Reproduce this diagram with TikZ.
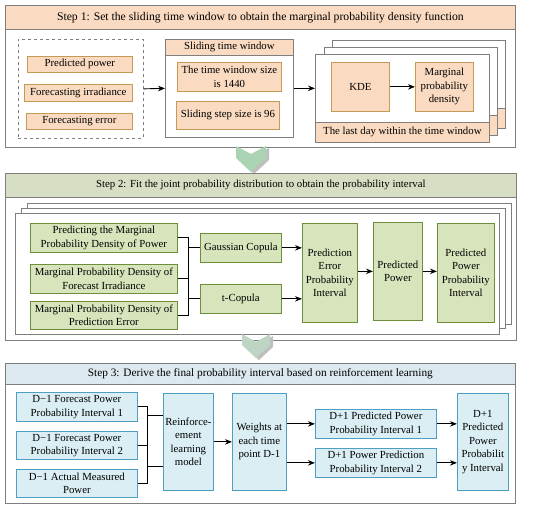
\documentclass[tikz,border=0pt]{standalone}
\usepackage{fontspec}
\setmainfont{Liberation Serif}
\definecolor{ggpeach}{HTML}{FADBC1}
\definecolor{ggpeachline}{HTML}{C49A56}
\definecolor{gggreen}{HTML}{D8E4BC}
\definecolor{gggreenline}{HTML}{6E8F3A}
\definecolor{ggolive}{HTML}{D6DEC3}
\definecolor{ggblue}{HTML}{DAEEF3}
\definecolor{ggblueline}{HTML}{4F9FC4}
\definecolor{ggsky}{HTML}{DCE9EF}
\definecolor{ggframe}{HTML}{7F7F7F}
\definecolor{ggmint}{HTML}{A9D3B2}
\usetikzlibrary{arrows.meta,positioning,calc}

\begin{document}
\begin{tikzpicture}[x=1pt,y=-1pt,
  font=\fontsize{10.8}{13.5}\selectfont,
  sz/.style 2 args={minimum width=#1,minimum height=#2},
  box/.style={anchor=north west,align=center,inner sep=1pt,line width=0.7pt},
  pbox/.style={box,fill=ggpeach,draw=ggpeachline},
  gbox/.style={box,fill=gggreen,draw=gggreenline},
  bbox/.style={box,fill=ggblue,draw=ggblueline},
  frame/.style={anchor=north west,inner sep=0pt,draw=ggframe,fill=white,line width=0.7pt},
  band/.style={anchor=north west,inner sep=0pt,draw=ggframe,line width=0.7pt},
  arr/.style={-{Stealth[length=7pt,width=5.5pt]},line width=0.9pt},
  ln/.style={line width=0.9pt},
  garrow/.style={fill=ggmint},
  gshade/.style={fill=black!25}]
  \useasboundingbox (0,0) rectangle (550,509);

  % step 1
  \node[frame,sz={510}{142}] (s1) at (5,5) {};
  \node[band,fill=ggpeach,sz={510}{24},font=\fontsize{11.7}{13.5}\selectfont] (t1) at (5,5)
    {Step 1: Set the sliding time window to obtain the marginal probability density function};
  \node[frame,dashed,draw=ggframe,sz={125}{99}] (inp) at (18,39) {};
  \node[pbox,sz={105}{16}] (pp) at (27,56) {Predicted power};
  \node[pbox,sz={108}{17}] (fi) at (24,84) {Forecasting irradiance};
  \node[pbox,sz={106}{16}] (fe) at (26,113) {Forecasting error};
  \node[frame,sz={128}{98}] (sw) at (165,39) {};
  \node[band,fill=ggpeach,sz={128}{16}] (swt) at (165,39) {Sliding time window};
  \node[pbox,sz={104}{29}] (tw) at (177,62) {The time window size\\is 1440};
  \node[pbox,sz={103}{28}] (ss) at (176,101) {Sliding step size is 96};
  \foreach \dx/\dy in {17/-14,9/-7} {
    \node[frame,sz={173}{88}] at (315+\dx,54+\dy) {};
    \node[band,fill=ggpeach,sz={173}{20}] at (315+\dx,122+\dy) {};
  }
  \node[frame,sz={174}{88}] (day) at (315,54) {};
  \node[band,fill=ggpeach,sz={174}{20}] (dayt) at (315,122) {The last day within the time window};
  \node[pbox,sz={58}{49}] (kde) at (331,62) {KDE};
  \node[pbox,sz={58}{49}] (mpd) at (415,62) {Marginal\\probability\\density};
  \draw[arr] (inp.east) -- (sw.west);
  \draw[arr] (sw.east) -- (sw.east -| day.west);
  \draw[arr] (kde) -- (mpd);

  \coordinate (a1) at (251,146);
  \fill[gshade] ([shift={(3,2)}]a1) ++(-15,0) -- ++(15,8) -- ++(15,-8) -- ++(0,12) -- ++(-15,14) -- ++(-15,-14) -- cycle;
  \fill[garrow] (a1) ++(-15,0) -- ++(15,8) -- ++(15,-8) -- ++(0,12) -- ++(-15,14) -- ++(-15,-14) -- cycle;

  % step 2
  \node[frame,sz={511}{167}] (s2) at (5,173) {};
  \node[band,fill=ggolive,sz={511}{24}] (t2) at (5,173)
    {Step 2: Fit the joint probability distribution to obtain the probability interval};
  \node[frame,sz={484}{121}] at (27,203) {};
  \node[frame,sz={484}{120}] at (21,208) {};
  \node[frame,sz={484}{121}] (lay) at (15,213) {};
  \node[gbox,sz={147}{29}] (pa) at (30,223) {Predicting the Marginal\\Probability Density of Power};
  \node[gbox,sz={147}{29}] (pb) at (30,264) {Marginal Probability Density of\\Forecast Irradiance};
  \node[gbox,sz={147}{28}] (pc) at (30,301) {Marginal Probability Density of\\Prediction Error};
  \node[gbox,sz={81}{29}] (gc) at (200,233) {Gaussian Copula};
  \node[gbox,sz={81}{29}] (tc) at (200,284) {t-Copula};
  \node[gbox,sz={55}{99}] (pe) at (302,223) {Prediction\\Error\\Probability\\Interval};
  \node[gbox,sz={49}{98}] (pw) at (373,222) {Predicted\\Power};
  \node[gbox,sz={57}{99}] (pi) at (437,223) {Predicted\\Power\\Probability\\Interval};
  \coordinate (br2) at (188,0);
  \draw[ln] (pa.east) -- (pa.east -| br2) -- (pc.east -| br2) -- (pc.east);
  \draw[ln] (pb.east) -- (pb.east -| br2);
  \draw[ln] (gc.west -| br2) -- (gc.west);
  \draw[ln] (tc.west -| br2) -- (tc.west);
  \draw[arr] (gc.east) -- (gc.east -| pe.west);
  \draw[arr] (tc.east) -- (tc.east -| pe.west);
  \draw[arr] (pe.east |- pw) -- (pw.west);
  \draw[arr] (pw.east) -- (pw.east -| pi.west);

  \coordinate (a2) at (256,334);
  \fill[gshade] ([shift={(3,2)}]a2) ++(-14,0) -- ++(14,8) -- ++(14,-8) -- ++(0,11) -- ++(-14,13) -- ++(-14,-13) -- cycle;
  \fill[garrow,fill=ggmint!80!gray!70] (a2) ++(-14,0) -- ++(14,8) -- ++(14,-8) -- ++(0,11) -- ++(-14,13) -- ++(-14,-13) -- cycle;

  % step 3
  \node[frame,sz={510}{140}] (s3) at (5,363) {};
  \node[band,fill=ggsky,sz={510}{21},font=\fontsize{11.3}{13.5}\selectfont] (t3) at (5,363)
    {Step 3: Derive the final probability interval based on reinforcement learning};
  \node[bbox,sz={121}{29}] (d1) at (16,392) {D−1 Forecast Power\\Probability Interval 1};
  \node[bbox,sz={121}{28}] (d2) at (16,431) {D−1 Forecast Power\\Probability Interval 2};
  \node[bbox,sz={121}{28}] (d3) at (16,469) {D−1 Actual Measured\\Power};
  \node[bbox,sz={50}{97}] (rl) at (163,393) {Reinforce-\\ement\\learning\\model};
  \node[bbox,sz={54}{97}] (wt) at (232,393) {Weights at\\each time\\point D-1};
  \node[bbox,sz={121}{29}] (p1) at (315,409) {D+1 Predicted Power\\Probability Interval 1};
  \node[bbox,sz={121}{29}] (p2) at (315,448) {D+1 Power Prediction\\Probability Interval 2};
  \node[bbox,sz={51}{97}] (fin) at (457,393) {D+1\\Predicted\\Power\\Probabilit\\y Interval};
  \coordinate (br3) at (147,0);
  \draw[ln] (d1.east) -- (d1.east -| br3) -- (d3.east -| br3) -- (d3.east);
  \draw[ln] (d2.east) -- (d2.east -| br3);
  \draw[ln] ([yshift=26pt]rl.west -| br3) -- ([yshift=26pt]rl.west);
  \draw[ln] ([yshift=-25pt]rl.west -| br3) -- ([yshift=-25pt]rl.west);
  \draw[arr] (rl.east) -- (rl.east -| wt.west);
  \draw[arr] (wt.east |- p1) -- (p1.west);
  \draw[arr] (wt.east |- p2) -- (p2.west);
  \draw[arr] (p1.east) -- (p1.east -| fin.west);
  \draw[arr] (p2.east) -- (p2.east -| fin.west);
\end{tikzpicture}
\end{document}
